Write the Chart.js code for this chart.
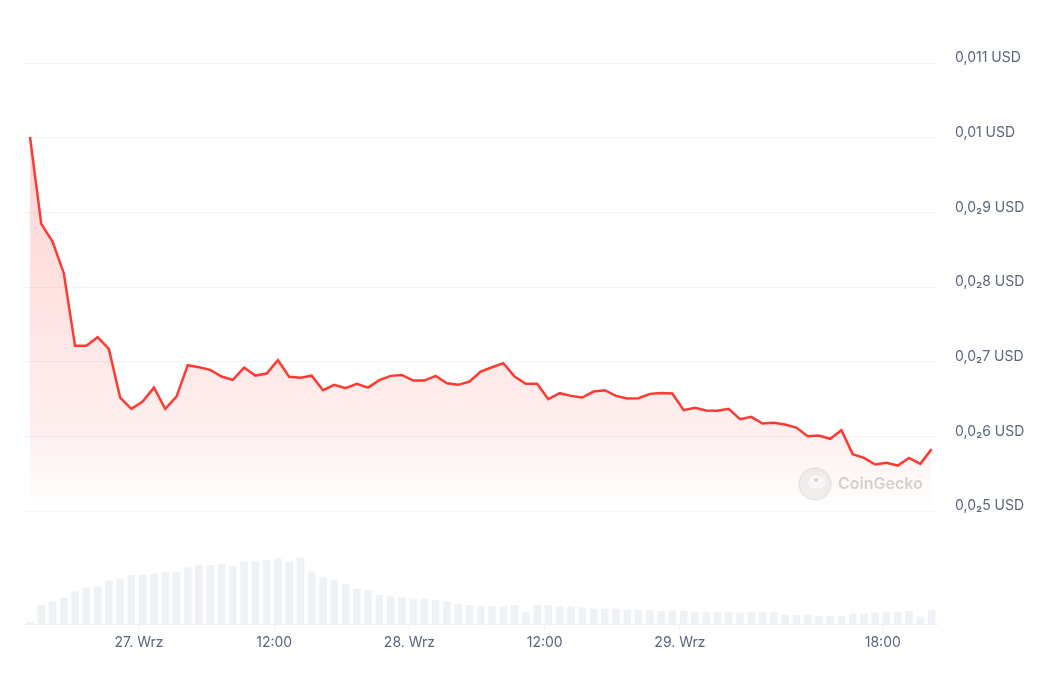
<!DOCTYPE html>
<html>
<head>
<meta charset="utf-8">
<script src="https://cdn.jsdelivr.net/npm/chart.js@4/dist/chart.umd.min.js"></script>
<style>
  html, body { margin: 0; padding: 0; background: #fff; }
  #wrap { width: 1056px; height: 676px; position: relative; }
</style>
</head>
<body>
<div id="wrap"><canvas id="price-chart"></canvas></div>
<script>
// hourly samples, first one ~9.67 h before 27. Wrz 00:00
const startHour = -9.67;
const priceValues = [
    0.01001, 0.008845, 0.008608, 0.008185, 0.007212, 0.007212, 0.007328, 0.007171, 0.00652, 0.006368,
    0.006466, 0.006653, 0.006368, 0.006533, 0.006953, 0.006926, 0.00689, 0.006801, 0.006756, 0.006921,
    0.006814, 0.006841, 0.00702, 0.006797, 0.006785, 0.006812, 0.006618, 0.00669, 0.006645, 0.006703,
    0.006653, 0.006752, 0.00681, 0.006823, 0.006747, 0.006747, 0.00681, 0.006712, 0.00669, 0.006734,
    0.006868, 0.006926, 0.00698, 0.006801, 0.006703, 0.006703, 0.006498, 0.006578, 0.006542, 0.00652,
    0.0066, 0.006618, 0.006542, 0.006506, 0.006511, 0.006569, 0.006582, 0.006573, 0.006351, 0.006382,
    0.006346, 0.006342, 0.006368, 0.00623, 0.006261, 0.006172, 0.006181, 0.006158, 0.006118, 0.006003,
    0.006012, 0.005967, 0.006083, 0.005762, 0.005712, 0.005623, 0.005645, 0.005609, 0.005712, 0.005632,
    0.005829
];
const volumeValues = [
    1.7, 18.7, 22.3, 26.3, 32.3, 36.3, 37.3, 43.3, 44.7, 48.7,
    48.7, 50, 51.3, 51.3, 56.3, 58.7, 58.7, 60, 57.3, 62.3,
    62.3, 63.7, 65, 62.3, 66.3, 52.3, 46.3, 43.7, 40, 35,
    33.7, 28.7, 27.3, 26.3, 25, 25, 23.7, 22.3, 20, 18.7,
    17.3, 17.3, 17.3, 18.7, 11.3, 18.7, 18.7, 17.3, 17.3, 16.3,
    15, 15, 15, 13.7, 13.7, 13.7, 12.7, 12.7, 12.7, 11.3,
    11.3, 11.3, 11.3, 11.3, 11.3, 11.3, 11.3, 9, 9, 9,
    7.7, 7.7, 7.7, 10, 10, 11.3, 11.3, 11.3, 12.7, 7,
    13.7
];
const priceTicks = [0.005, 0.006, 0.007, 0.008, 0.009, 0.010, 0.011];
const priceTickLabels = ['0,0\u20825 USD', '0,0\u20826 USD', '0,0\u20827 USD', '0,0\u20828 USD', '0,0\u20829 USD', '0,01 USD', '0,011 USD'];
const timeTicks = [0, 12, 24, 36, 48, 66];
const timeTickLabels = ['27. Wrz', '12:00', '28. Wrz', '12:00', '29. Wrz', '18:00'];

const textColor = '#58667e';
const lineColor = '#ff3a33';

const pricePoints = priceValues.map((v, i) => ({ x: startHour + i, y: v }));
const volumePoints = volumeValues.map((v, i) => ({ x: startHour + i, y: v }));

const watermark = {
    id: 'watermark',
    afterDatasetsDraw(chart) {
        const { ctx, chartArea } = chart;
        const cx = chartArea.right - 122, cy = chart.scales.y.getPixelForValue(0.005) - 27;
        ctx.save();
        ctx.beginPath();
        ctx.arc(cx, cy, 16, 0, Math.PI * 2);
        ctx.fillStyle = 'rgba(120,120,120,0.10)';
        ctx.fill();
        ctx.strokeStyle = 'rgba(120,120,120,0.12)';
        ctx.lineWidth = 1.5;
        ctx.stroke();
        ctx.beginPath();
        ctx.ellipse(cx + 2, cy - 2, 9, 7, 0, 0, Math.PI * 2);
        ctx.fillStyle = 'rgba(255,255,255,0.5)';
        ctx.fill();
        ctx.beginPath();
        ctx.arc(cx + 1, cy - 4, 2, 0, Math.PI * 2);
        ctx.fillStyle = 'rgba(120,120,120,0.25)';
        ctx.fill();
        ctx.font = '600 16px Inter';
        ctx.fillStyle = 'rgba(120,120,120,0.32)';
        ctx.textBaseline = 'middle';
        ctx.fillText('CoinGecko', cx + 23, cy);
        ctx.restore();
    }
};

const ctx = document.getElementById('price-chart').getContext('2d');
new Chart(ctx, {
    type: 'bar',
    data: {
        datasets: [
            {
                type: 'line',
                label: 'Cena',
                data: pricePoints,
                yAxisID: 'y',
                borderColor: lineColor,
                borderWidth: 2.5,
                pointRadius: 0,
                tension: 0,
                fill: { value: 0.005 },
                backgroundColor: (c) => {
                    const area = c.chart.chartArea;
                    if (!area) return 'rgba(255,58,51,0.1)';
                    const ys = c.chart.scales.y;
                    const top = ys.getPixelForValue(0.0101);
                    const bottom = ys.getPixelForValue(0.005);
                    const g = c.chart.ctx.createLinearGradient(0, top, 0, bottom);
                    g.addColorStop(0, 'rgba(255,58,51,0.22)');
                    g.addColorStop(0.8, 'rgba(255,58,51,0.08)');
                    g.addColorStop(1, 'rgba(255,58,51,0.0)');
                    return g;
                },
                order: 0
            },
            {
                type: 'bar',
                label: 'Wolumen',
                data: volumePoints,
                yAxisID: 'vol',
                backgroundColor: '#eff2f5',
                barThickness: 7,
                order: 1
            }
        ]
    },
    options: {
        responsive: true,
        maintainAspectRatio: false,
        animation: false,
        layout: { padding: { left: 23, top: 20, right: 0, bottom: 0 } },
        plugins: {
            legend: { display: false },
            tooltip: { enabled: false }
        },
        scales: {
            x: {
                type: 'linear',
                min: -10.29,
                max: 70.81,
                offset: false,
                afterBuildTicks: (scale) => { scale.ticks = timeTicks.map(v => ({ value: v })); },
                afterFit: (scale) => {
                    scale.height = 52;
                    scale.paddingLeft = 0;
                    scale.paddingRight = 0;
                },
                ticks: {
                    autoSkip: false,
                    maxRotation: 0,
                    padding: 4,
                    color: textColor,
                    font: { family: 'Inter', size: 14 },
                    callback: (value, index) => timeTickLabels[index]
                },
                grid: { drawOnChartArea: false, drawTicks: true, tickLength: 6, color: '#eff2f5', offset: false },
                border: { display: true, color: '#eff2f5' }
            },
            y: {
                position: 'right',
                min: 0.003487,
                max: 0.011576,
                afterBuildTicks: (scale) => { scale.ticks = priceTicks.map(v => ({ value: v })); },
                afterFit: (scale) => {
                    scale.width = 119;
                    scale.paddingTop = 0;
                    scale.paddingBottom = 0;
                },
                ticks: {
                    padding: 18,
                    labelOffset: -5,
                    color: textColor,
                    font: { family: 'Inter', size: 14 },
                    callback: (value, index) => priceTickLabels[index]
                },
                grid: { color: '#f1f3f6', drawTicks: false },
                border: { display: false }
            },
            vol: {
                display: false,
                min: 0,
                max: 604
            }
        }
    },
    plugins: [watermark]
});
</script>
</body>
</html>
